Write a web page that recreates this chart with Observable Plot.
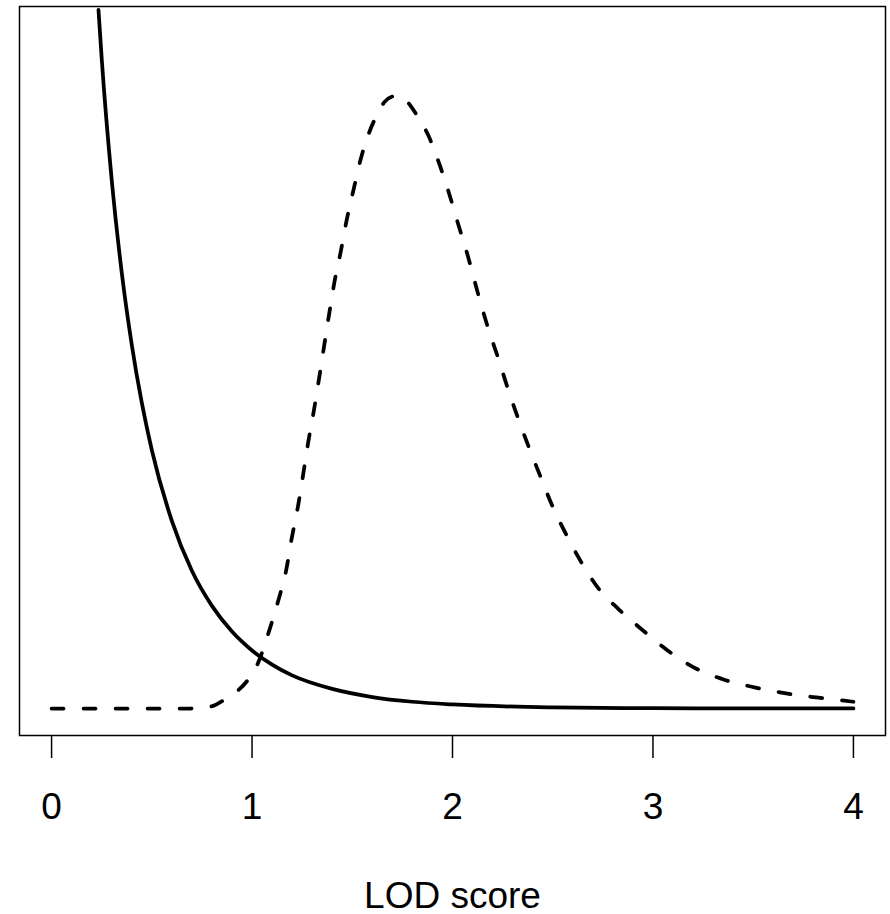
<!DOCTYPE html>
<html>
<head>
<meta charset="utf-8">
<script src="https://cdn.jsdelivr.net/npm/d3@7"></script>
<script src="https://cdn.jsdelivr.net/npm/@observablehq/plot@0.6"></script>
<style>
  html, body { margin: 0; padding: 0; background: #fff; }
  #chart svg { display: block; }
</style>
</head>
<body>
<div id="chart"></div>
<script>
// ---- data ----
const xTicks = [0, 1, 2, 3, 4];
const xLabel = "LOD score";

// solid curve (null distribution)
const lodSolid     = [0.234, 0.25, 0.30, 0.35, 0.40, 0.45, 0.50, 0.60, 0.70, 0.80, 0.90, 1.00, 1.10, 1.20, 1.40, 1.60, 1.80, 2.00, 2.50, 3.00, 3.50, 4.00];
const densitySolid = [1.035, 0.963, 0.783, 0.646, 0.539, 0.453, 0.383, 0.278, 0.204, 0.152, 0.114, 0.086, 0.065, 0.049, 0.029, 0.017, 0.010, 0.006, 0.0017, 0.0005, 0.00015, 0.00004];

// dashed curve (alternative distribution)
const lodDashed = [0, 0.498, 0.697, 0.797, 0.857, 0.931, 0.976, 1.031, 1.081, 1.131, 1.171, 1.196, 1.230, 1.260, 1.280, 1.310, 1.335, 1.360, 1.385, 1.410, 1.440, 1.469, 1.509, 1.544, 1.584, 1.624, 1.659, 1.704, 1.728, 1.758, 1.783, 1.828, 1.878, 1.928, 1.983, 2.027, 2.077, 2.127, 2.177, 2.227, 2.276, 2.326, 2.381, 2.441, 2.501, 2.565, 2.640, 2.725, 2.829, 2.949, 3.073, 3.203, 3.352, 3.512, 3.671, 3.826, 4.0];
const densityDashed = [0, 0, 0, 0.003, 0.012, 0.027, 0.041, 0.068, 0.111, 0.160, 0.206, 0.249, 0.301, 0.356, 0.394, 0.444, 0.490, 0.538, 0.585, 0.630, 0.673, 0.719, 0.772, 0.816, 0.853, 0.880, 0.898, 0.907, 0.908, 0.905, 0.896, 0.876, 0.850, 0.812, 0.763, 0.719, 0.670, 0.615, 0.564, 0.520, 0.474, 0.431, 0.387, 0.342, 0.298, 0.259, 0.218, 0.179, 0.147, 0.116, 0.086, 0.061, 0.043, 0.031, 0.022, 0.016, 0.010];

const solid = lodSolid.map((x, i) => ({x, y: densitySolid[i]}));
const dashed = lodDashed.map((x, i) => ({x, y: densityDashed[i]}));

const chart = Plot.plot({
  width: 890,
  height: 914,
  marginLeft: 19,
  marginRight: 5,
  marginTop: 6,
  marginBottom: 179,
  style: {fontFamily: "'Liberation Sans', Arial, Helvetica, sans-serif", background: "white", color: "black"},
  x: {domain: [-0.16, 4.16]},
  y: {domain: [-0.04, 1.04], axis: null},
  marks: [
    Plot.line(solid, {x: "x", y: "y", stroke: "black", strokeWidth: 3.75, curve: "monotone-x", clip: true, strokeLinejoin: "round"}),
    Plot.line(dashed, {x: "x", y: "y", stroke: "black", strokeWidth: 3.75, curve: "monotone-x", clip: true,
      strokeDasharray: "12,20", strokeLinecap: "round", strokeLinejoin: "round"}),
    Plot.frame({stroke: "black", strokeWidth: 1.5}),
    Plot.axisX({
      ticks: xTicks, tickFormat: "d", tickSize: 23, tickPadding: 34, fontSize: 37, strokeWidth: 1.5,
      label: xLabel, labelAnchor: "center", labelOffset: 172, labelArrow: "none"
    })
  ]
});
document.getElementById("chart").appendChild(chart);
</script>
</body>
</html>
